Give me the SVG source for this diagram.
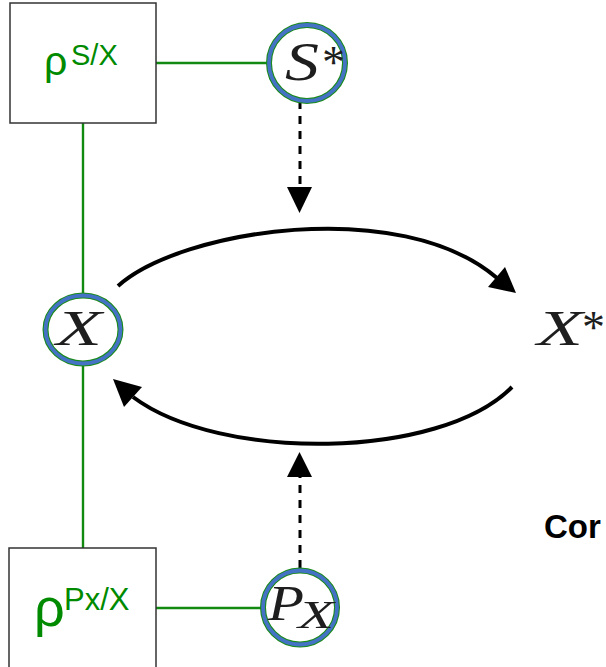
<svg xmlns="http://www.w3.org/2000/svg" width="606" height="667" viewBox="0 0 606 667">
<style>
.box{fill:#fff;stroke:#333;stroke-width:1.5}
.gl{stroke:#128a12;stroke-width:2.4;fill:none}
.ringO{fill:#fff;stroke:#1a8a1a;stroke-width:6}
.ringI{fill:none;stroke:#4472c4;stroke-width:3.8}
.rho{font-family:"Liberation Sans",Arial,sans-serif;fill:#008a00}
.math{font-family:"Liberation Serif","Times New Roman",serif;font-style:italic;fill:#1e1e1e}
.ast{font-family:"Liberation Serif","Times New Roman",serif;fill:#1e1e1e;font-size:46px}
.arc{fill:none;stroke:#000;stroke-width:4}
.dash{fill:none;stroke:#000;stroke-width:3;stroke-dasharray:8 7}
.head{fill:#000}
.lbl{font-family:"Liberation Sans",Arial,sans-serif;font-weight:bold;font-size:33px;fill:#000}
</style>
<g id="connectors">
<line class="gl" x1="156" y1="63" x2="268" y2="63"/>
<line class="gl" x1="83" y1="123" x2="83" y2="293"/>
<line class="gl" x1="83" y1="366" x2="83" y2="548"/>
<line class="gl" x1="156" y1="608" x2="262" y2="608"/>
<line class="dash" x1="300" y1="101" x2="300" y2="188"/>
<polygon class="head" points="287,187 312,187 299.5,213"/>
<line class="dash" x1="300" y1="568" x2="300" y2="477"/>
<polygon class="head" points="287,477 312,477 299.5,452"/>
<path class="arc" d="M118,286 C180,230 400,195 497,278"/>
<polygon class="head" points="488,287 505,267 516,293"/>
<path class="arc" d="M512,387 C440,460 220,462 133,397"/>
<polygon class="head" points="142,387 124,407 113,379"/>
</g>
<g id="box-s">
<rect class="box" x="10" y="3" width="146" height="120"/>
<text class="rho" x="44" y="75" font-size="41">ρ</text>
<text class="rho" x="71" y="65" font-size="29">S/X</text>
</g>
<g id="box-p">
<rect class="box" x="9" y="548" width="147" height="122"/>
<text class="rho" x="34" y="626" font-size="54">ρ</text>
<text class="rho" x="64" y="610" font-size="31">Px/X</text>
</g>
<g id="node-s">
<circle class="ringO" cx="307" cy="63" r="38"/>
<circle class="ringI" cx="307" cy="63" r="38"/>
<text class="math" x="285" y="80" font-size="54" textLength="34" lengthAdjust="spacingAndGlyphs">S</text>
<text class="ast" x="322" y="78">*</text>
</g>
<g id="node-x">
<ellipse class="ringO" cx="83" cy="329.5" rx="37.5" ry="34"/>
<ellipse class="ringI" cx="83" cy="329.5" rx="37.5" ry="34"/>
<text class="math" x="56" y="345" font-size="50" textLength="46" lengthAdjust="spacingAndGlyphs">X</text>
</g>
<g id="node-xstar">
<text class="math" x="537" y="345" font-size="50" textLength="46" lengthAdjust="spacingAndGlyphs">X</text>
<text class="ast" x="582" y="343">*</text>
</g>
<g id="node-p">
<circle class="ringO" cx="300" cy="607.5" r="37"/>
<circle class="ringI" cx="300" cy="607.5" r="37"/>
<text class="math" x="268" y="620" font-size="51" textLength="36" lengthAdjust="spacingAndGlyphs">P</text>
<text class="math" x="298" y="628" font-size="41" textLength="36" lengthAdjust="spacingAndGlyphs">X</text>
</g>
<g id="label-cor">
<text class="lbl" x="544" y="538">Cor</text>
</g>
</svg>
